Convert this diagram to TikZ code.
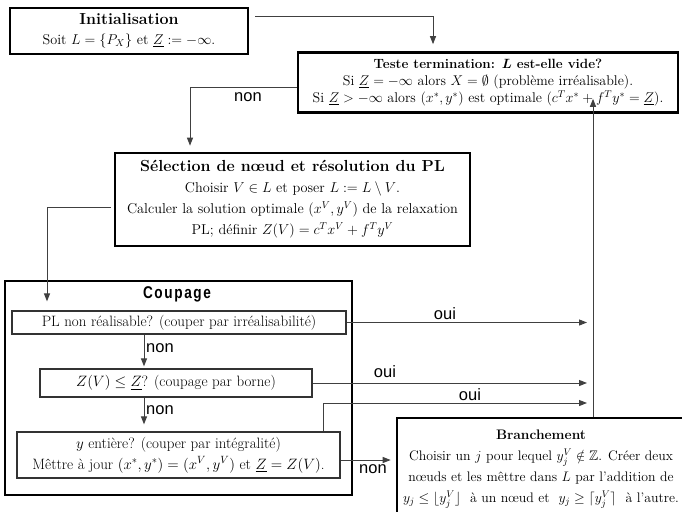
\RequirePackage{fix-cm}
\documentclass[tikz,border=0pt]{standalone}
\usepackage{amsmath,amssymb}
\usepackage{fontspec}
\newfontfamily\sansf{Liberation Sans}
\newfontfamily\sanssp[LetterSpace=12]{Liberation Sans}
\usetikzlibrary{arrows.meta}
\begin{document}
\begin{tikzpicture}[x=1pt,y=-1pt,
  bigbox/.style={draw, line width=2.6pt, inner sep=0pt, align=center},
  smallbox/.style={draw=black!80, line width=1.2pt, inner sep=0pt, align=center},
  conn/.style={line width=1pt, draw=black!75},
  arr/.style={conn, -{Triangle[length=8pt,width=6pt]}},
  lab/.style={font=\sansf\fontsize{16.5}{18}\selectfont, inner sep=0pt}]
\clip (0,0) rectangle (682,511);

% boxes
\node[bigbox, minimum width=238pt, minimum height=46pt,
  font=\fontsize{14.2}{20}\selectfont] (init) at (129,31)
  {{\fontsize{16}{20}\selectfont\bfseries Initialisation}\\ Soit $L=\{P_X\}$ et $\underline{Z}:=-\infty$.};

\node[bigbox, minimum width=380pt, minimum height=60pt,
  font=\fontsize{14.1}{17}\selectfont] (test) at (488,82.5)
  {{\fontsize{13.4}{17}\selectfont\bfseries Teste termination: $\boldsymbol{L}$ est-elle vide?}\\
   Si $\underline{Z}=-\infty$ alors $X=\emptyset$ (problème irréalisable).\\
   Si $\underline{Z}>-\infty$ alors $(x^*,y^*)$ est optimale $(c^Tx^*+f^Ty^*=\underline{Z})$.};

\node[bigbox, minimum width=355pt, minimum height=93pt,
  font=\fontsize{14.3}{21}\selectfont] (sel) at (292.5,199.5)
  {{\fontsize{16}{21}\selectfont\bfseries Sélection de nœud et résolution du PL}\\
   Choisir $V\in L$ et poser $L:=L\setminus V$.\\
   Calculer la solution optimale $(x^V,y^V)$ de la relaxation\\
   PL; définir $Z(V)=c^Tx^V+f^Ty^V$};

\node[bigbox, minimum width=347pt, minimum height=214pt] (coup) at (178.5,388) {};
\node[inner sep=0pt] (couptitle) at (177,294)
  {\scalebox{0.8}[1]{\sanssp\bfseries\fontsize{17}{18}\selectfont Coupage}};

\node[smallbox, minimum width=334pt, minimum height=23pt,
  font=\fontsize{15}{21}\selectfont] (b1) at (179,322.5)
  {PL non réalisable? (couper par irréalisabilité)};
\node[smallbox, minimum width=272pt, minimum height=28pt,
  font=\fontsize{15}{21}\selectfont] (b2) at (176,383)
  {$Z(V)\le\underline{Z}$? (coupage par borne)};
\node[smallbox, minimum width=323pt, minimum height=46pt,
  font=\fontsize{15}{21}\selectfont] (b3) at (178.5,455)
  {$y$ entière? (couper par intégralité)\\
   Mêttre à jour $(x^*,y^*)=(x^V,y^V)$ et $\underline{Z}=Z(V)$.};

\node[bigbox, minimum width=288pt, minimum height=102pt,
  font=\fontsize{13.8}{21}\selectfont] (bra) at (541,469)
  {{\fontsize{13.8}{21}\selectfont\bfseries Branchement}\\
   Choisir un $j$ pour lequel $y_j^V\notin\mathbb{Z}$. Créer deux\\
   nœuds et les mêttre dans $L$ par l'addition de\\
   $y_j\le\lfloor y_j^V\rfloor$\ \ à un nœud et\ \ $y_j\ge\lceil y_j^V\rceil$\ \ à l'autre.};

% connectors
\draw[arr] ([shift={(6,-14)}]init.east) -| ([shift={(-55,-7)}]test.north);
\draw[arr] ([shift={(0,4.5)}]test.west) -| ([shift={(-102.5,-6)}]sel.north);
\node[lab] (non1) at (248,97) {non};
\draw[arr] ([shift={(-3,7.5)}]sel.west) -| ([shift={(-132,-9)}]b1.north);

\draw[arr] ([xshift=-35pt]b1.south) -- ([xshift=-32pt,yshift=2pt]b2.north);
\node[lab, anchor=west] (non2) at (146,348) {non};
\draw[arr] ([xshift=-32pt]b2.south) -- ([xshift=-34.5pt,yshift=7pt]b3.north);
\node[lab, anchor=west] (non3) at (146,410) {non};

\coordinate (t1) at (587,322.5);
\coordinate (t2) at (587,383);
\coordinate (t3) at (587,403);
\draw[arr] (b1.east) -- (t1);
\node[lab] (oui1) at (445,314) {oui};
\draw[arr] (b2.east) -- (t2);
\node[lab] (oui2) at (385,372) {oui};
\draw[arr] ([xshift=144.5pt]b3.north) |- (t3);
\node[lab] (oui3) at (470,395) {oui};

\draw[arr, shorten >=5pt] ([yshift=-5pt]b3.east) -- ([yshift=-5pt]b3.east -| bra.west);
\node[lab] (non4) at (373,469) {non};

\draw[arr] ([xshift=52pt]bra.north) -- ([xshift=105pt,yshift=15pt]test.south);
\end{tikzpicture}
\end{document}
